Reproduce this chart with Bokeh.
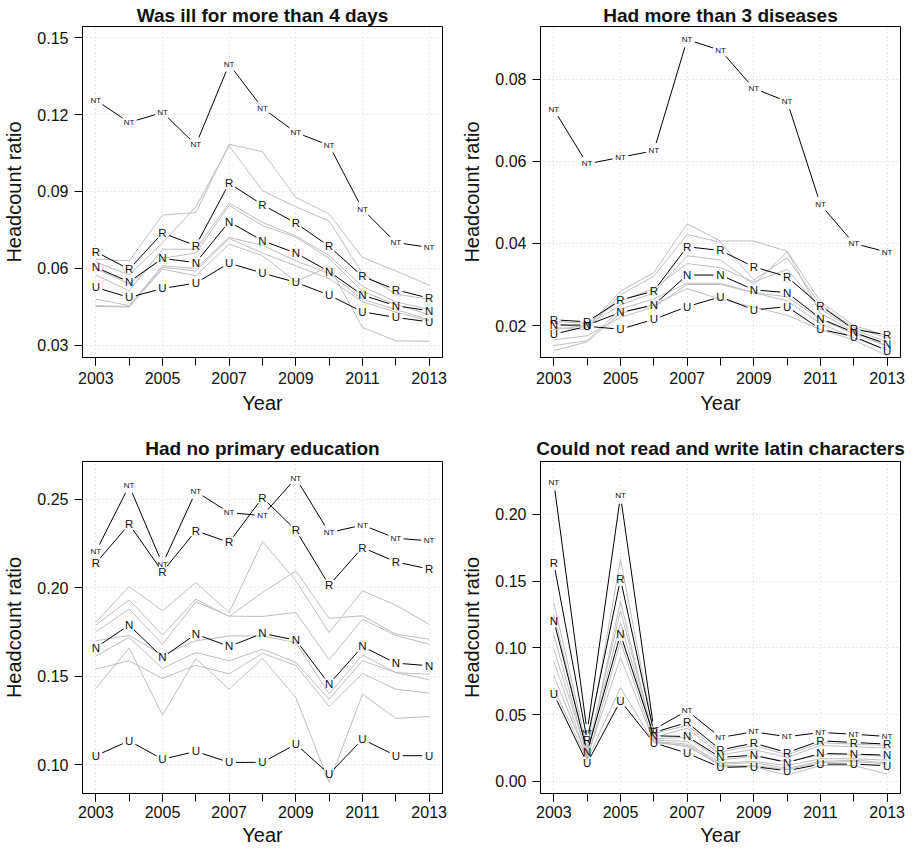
import math
from bokeh.plotting import figure
from bokeh.layouts import column, row
from bokeh.models import Range1d, FixedTicker, PrintfTickFormatter, Title
from bokeh.core.properties import value
from bokeh.embed import file_html
from bokeh.resources import INLINE

years = list(range(2003, 2014))
odd_years = [2003, 2005, 2007, 2009, 2011, 2013]
series_names = ["NT", "R", "N", "U"]

# ---- Panel 1: Was ill for more than 4 days
ill_NT = [0.1256, 0.1169, 0.1208, 0.1082, 0.1396, 0.1225, 0.1130, 0.1080, 0.0831, 0.0701, 0.0682]
ill_R = [0.0665, 0.0597, 0.0738, 0.0689, 0.0932, 0.0848, 0.0777, 0.0686, 0.0569, 0.0517, 0.0484]
ill_N = [0.0604, 0.0548, 0.0639, 0.0623, 0.0782, 0.0708, 0.0660, 0.0588, 0.0496, 0.0455, 0.0435]
ill_U = [0.0526, 0.0487, 0.0522, 0.0543, 0.0621, 0.0582, 0.0546, 0.0496, 0.0431, 0.0409, 0.0392]
ill_g1 = [0.0636, 0.0630, 0.0808, 0.0818, 0.1084, 0.1055, 0.0877, 0.0812, 0.0643, 0.0590, 0.0535]
ill_g2 = [0.0625, 0.0575, 0.0700, 0.0840, 0.1078, 0.0903, 0.0840, 0.0785, 0.0580, 0.0500, 0.0480]
ill_g3 = [0.0574, 0.0513, 0.0675, 0.0675, 0.0855, 0.0779, 0.0727, 0.0650, 0.0530, 0.0470, 0.0440]
ill_g4 = [0.0600, 0.0540, 0.0640, 0.0660, 0.0845, 0.0767, 0.0722, 0.0640, 0.0510, 0.0460, 0.0420]
ill_g5 = [0.0481, 0.0455, 0.0611, 0.0600, 0.0721, 0.0690, 0.0630, 0.0580, 0.0480, 0.0440, 0.0400]
ill_g6 = [0.0455, 0.0452, 0.0605, 0.0590, 0.0717, 0.0660, 0.0610, 0.0560, 0.0470, 0.0430, 0.0395]
ill_g7 = [0.0452, 0.0450, 0.0597, 0.0572, 0.0695, 0.0650, 0.0548, 0.0608, 0.0370, 0.0318, 0.0316]

# ---- Panel 2: Had more than 3 diseases
dis_NT = [0.0727, 0.0594, 0.0610, 0.0626, 0.0897, 0.0871, 0.0778, 0.0746, 0.0495, 0.0400, 0.0379]
dis_R = [0.0214, 0.0209, 0.0262, 0.0284, 0.0392, 0.0383, 0.0343, 0.0319, 0.0248, 0.0191, 0.0177]
dis_N = [0.0201, 0.0201, 0.0232, 0.0250, 0.0323, 0.0323, 0.0287, 0.0280, 0.0217, 0.0183, 0.0155]
dis_U = [0.0179, 0.0198, 0.0191, 0.0215, 0.0246, 0.0270, 0.0238, 0.0246, 0.0191, 0.0173, 0.0139]
dis_g1 = [0.0205, 0.0195, 0.0284, 0.0329, 0.0448, 0.0406, 0.0406, 0.0381, 0.0258, 0.0200, 0.0175]
dis_g2 = [0.0195, 0.0190, 0.0275, 0.0320, 0.0422, 0.0403, 0.0311, 0.0365, 0.0250, 0.0195, 0.0170]
dis_g3 = [0.0210, 0.0205, 0.0260, 0.0290, 0.0351, 0.0341, 0.0306, 0.0337, 0.0240, 0.0190, 0.0160]
dis_g4 = [0.0151, 0.0163, 0.0240, 0.0265, 0.0303, 0.0303, 0.0280, 0.0270, 0.0215, 0.0180, 0.0150]
dis_g5 = [0.0139, 0.0160, 0.0230, 0.0250, 0.0290, 0.0264, 0.0245, 0.0225, 0.0190, 0.0165, 0.0126]
dis_g6 = [0.0190, 0.0200, 0.0250, 0.0280, 0.0370, 0.0360, 0.0300, 0.0380, 0.0230, 0.0185, 0.0150]
dis_g7 = [0.0165, 0.0175, 0.0220, 0.0245, 0.0300, 0.0300, 0.0280, 0.0260, 0.0205, 0.0170, 0.0140]

# ---- Panel 3: Had no primary education
edu_NT = [0.2204, 0.2578, 0.2134, 0.2545, 0.2426, 0.2408, 0.2621, 0.2313, 0.2355, 0.2281, 0.2266]
edu_R = [0.2140, 0.2360, 0.2091, 0.2323, 0.2257, 0.2511, 0.2326, 0.2015, 0.2228, 0.2147, 0.2106]
edu_N = [0.1662, 0.1789, 0.1606, 0.1738, 0.1668, 0.1742, 0.1704, 0.1455, 0.1668, 0.1574, 0.1559]
edu_U = [0.1050, 0.1134, 0.1030, 0.1074, 0.1012, 0.1012, 0.1115, 0.0946, 0.1143, 0.1050, 0.1050]
edu_g1 = [0.1804, 0.2008, 0.1870, 0.2030, 0.1861, 0.2261, 0.2040, 0.1747, 0.1983, 0.1902, 0.1794]
edu_g2 = [0.1789, 0.1932, 0.1732, 0.1936, 0.1838, 0.1974, 0.2096, 0.1827, 0.1842, 0.1738, 0.1709]
edu_g3 = [0.1751, 0.1880, 0.1681, 0.1922, 0.1840, 0.1838, 0.1861, 0.1593, 0.1823, 0.1730, 0.1681]
edu_g4 = [0.1700, 0.1730, 0.1620, 0.1700, 0.1728, 0.1728, 0.1690, 0.1400, 0.1620, 0.1520, 0.1511]
edu_g5 = [0.1615, 0.1719, 0.1544, 0.1634, 0.1587, 0.1653, 0.1578, 0.1370, 0.1587, 0.1521, 0.1480]
edu_g6 = [0.1540, 0.1587, 0.1487, 0.1562, 0.1513, 0.1630, 0.1560, 0.1329, 0.1515, 0.1426, 0.1404]
edu_g7 = [0.1430, 0.1660, 0.1279, 0.1600, 0.1426, 0.1600, 0.1379, 0.0898, 0.1398, 0.1261, 0.1272]

# ---- Panel 4: Could not read and write latin characters
lat_NT = [0.2240, 0.0370, 0.2140, 0.0390, 0.0530, 0.0330, 0.0372, 0.0335, 0.0367, 0.0354, 0.0337]
lat_R = [0.1635, 0.0310, 0.1515, 0.0367, 0.0442, 0.0237, 0.0287, 0.0217, 0.0305, 0.0292, 0.0280]
lat_N = [0.1204, 0.0220, 0.1103, 0.0342, 0.0337, 0.0180, 0.0197, 0.0142, 0.0210, 0.0205, 0.0197]
lat_U = [0.0654, 0.0137, 0.0604, 0.0290, 0.0212, 0.0105, 0.0112, 0.0080, 0.0130, 0.0130, 0.0118]
lat_g1 = [0.1340, 0.0250, 0.1665, 0.0360, 0.0420, 0.0220, 0.0270, 0.0200, 0.0290, 0.0280, 0.0270]
lat_g2 = [0.1250, 0.0220, 0.1279, 0.0330, 0.0400, 0.0200, 0.0240, 0.0180, 0.0270, 0.0260, 0.0250]
lat_g3 = [0.0991, 0.0200, 0.1191, 0.0320, 0.0330, 0.0160, 0.0190, 0.0150, 0.0200, 0.0200, 0.0190]
lat_g4 = [0.0792, 0.0180, 0.0929, 0.0300, 0.0280, 0.0140, 0.0150, 0.0120, 0.0170, 0.0170, 0.0160]
lat_g5 = [0.0700, 0.0160, 0.0704, 0.0290, 0.0270, 0.0120, 0.0120, 0.0090, 0.0140, 0.0150, 0.0130]
lat_g6 = [0.1100, 0.0190, 0.1350, 0.0310, 0.0300, 0.0110, 0.0110, 0.0047, 0.0120, 0.0120, 0.0055]
lat_g7 = [0.0900, 0.0170, 0.1050, 0.0300, 0.0260, 0.0130, 0.0140, 0.0100, 0.0150, 0.0160, 0.0140]

titles = ["Was ill for more than 4 days", "Had more than 3 diseases",
          "Had no primary education", "Could not read and write latin characters"]
y_ticks_1 = [0.03, 0.06, 0.09, 0.12, 0.15]
y_ticks_2 = [0.02, 0.04, 0.06, 0.08]
y_ticks_3 = [0.10, 0.15, 0.20, 0.25]
y_ticks_4 = [0.00, 0.05, 0.10, 0.15, 0.20]

X_LO, X_HI = 2002.6, 2013.4
FONT = "Liberation Sans"
GRAY = "#BEBEBE"


def gapped_segments(xs, ys, kx, ky, gap):
    x0, y0, x1, y1 = [], [], [], []
    for i in range(len(xs) - 1):
        dx = (xs[i + 1] - xs[i]) * kx
        dy = (ys[i + 1] - ys[i]) * ky
        L = math.hypot(dx, dy)
        if L <= 2 * gap:
            continue
        f = gap / L
        ddx = xs[i + 1] - xs[i]
        ddy = ys[i + 1] - ys[i]
        x0.append(xs[i] + ddx * f)
        y0.append(ys[i] + ddy * f)
        x1.append(xs[i + 1] - ddx * f)
        y1.append(ys[i + 1] - ddy * f)
    return x0, y0, x1, y1


def panel(title, black, gray, ylo, yhi, yticks, width, height, mb, tick_standoff,
          xlab_standoff, title_standoff):
    ml, mr, mt, mbot = mb
    p = figure(width=width, height=height, x_range=Range1d(X_LO, X_HI),
               y_range=Range1d(ylo, yhi), output_backend="svg",
               toolbar_location=None, title=None,
               min_border_left=ml, min_border_right=mr,
               min_border_top=mt, min_border_bottom=mbot)
    p.background_fill_color = "white"
    p.border_fill_color = "white"
    p.outline_line_color = "black"
    p.outline_line_width = 1

    fw = width - ml - mr
    fh = height - mt - mbot
    kx = fw / (X_HI - X_LO)
    ky = fh / (yhi - ylo)

    for g in gray:
        p.line(years, g, line_color=GRAY, line_width=1)

    for name, vals in zip(series_names, black):
        gap = 8 if name == "NT" else 7
        x0, y0, x1, y1 = gapped_segments(years, vals, kx, ky, gap)
        p.segment(x0=x0, y0=y0, x1=x1, y1=y1, line_color="black", line_width=1)
    for name, vals in zip(series_names, black):
        size = "8px" if name == "NT" else "11.5px"
        p.text(x=years, y=vals, text=[name] * len(years),
               text_font=value(FONT), text_font_size=value(size),
               text_align="center", text_baseline="middle", text_color="#111111")

    # axes
    p.xaxis.ticker = FixedTicker(ticks=odd_years, minor_ticks=years)
    p.yaxis.ticker = FixedTicker(ticks=yticks)
    p.yaxis.formatter = PrintfTickFormatter(format="%.2f")
    for ax in (p.xaxis, p.yaxis):
        ax.axis_line_color = "black"
        ax.axis_line_width = 1
        ax.major_tick_line_color = "black"
        ax.major_tick_out = 8
        ax.major_tick_in = 0
        ax.major_label_text_font = FONT
        ax.major_label_text_font_size = "16px"
        ax.major_label_text_color = "#111111"
        ax.axis_label_text_font = FONT
        ax.axis_label_text_font_size = "20px"
        ax.axis_label_text_font_style = "normal"
        ax.axis_label_text_color = "#111111"
    p.xaxis.minor_tick_line_color = "black"
    p.xaxis.minor_tick_out = 8
    p.xaxis.minor_tick_in = 0
    p.yaxis.minor_tick_line_color = None
    p.xaxis.major_label_standoff = tick_standoff
    p.xaxis.axis_label_standoff = xlab_standoff
    p.yaxis.major_label_standoff = 6
    p.yaxis.axis_label_standoff = 9
    p.xaxis.axis_label = "Year"
    p.yaxis.axis_label = "Headcount ratio"

    p.grid.grid_line_color = "#D3D3D3"
    p.grid.grid_line_dash = "1 3"
    p.grid.grid_line_width = 1

    p.add_layout(Title(text=title, align="center", standoff=title_standoff,
                       text_font=FONT, text_font_size="19px",
                       text_font_style="bold", text_color="#111111"), "above")
    return p


p1 = panel(titles[0], [ill_NT, ill_R, ill_N, ill_U],
           [ill_g1, ill_g2, ill_g3, ill_g4, ill_g5, ill_g6, ill_g7],
           0.0253, 0.1543, y_ticks_1, 458, 417, (77, 16, 26, 60), 6, 5, 2)
p2 = panel(titles[1], [dis_NT, dis_R, dis_N, dis_U],
           [dis_g1, dis_g2, dis_g3, dis_g4, dis_g5, dis_g6, dis_g7],
           0.0122, 0.0929, y_ticks_2, 447, 417, (77, 5, 26, 60), 6, 5, 2)
p3 = panel(titles[2], [edu_NT, edu_R, edu_N, edu_U],
           [edu_g1, edu_g2, edu_g3, edu_g4, edu_g5, edu_g6, edu_g7],
           0.0836, 0.2715, y_ticks_3, 458, 432, (77, 16, 44, 56), 4, 3, 5)
p4 = panel(titles[3], [lat_NT, lat_R, lat_N, lat_U],
           [lat_g1, lat_g2, lat_g3, lat_g4, lat_g5, lat_g6, lat_g7],
           -0.009, 0.2397, y_ticks_4, 447, 432, (77, 5, 44, 56), 4, 3, 5)

layout = column(row(p1, p2), row(p3, p4))
open("out.html", "w").write(file_html(layout, INLINE))
